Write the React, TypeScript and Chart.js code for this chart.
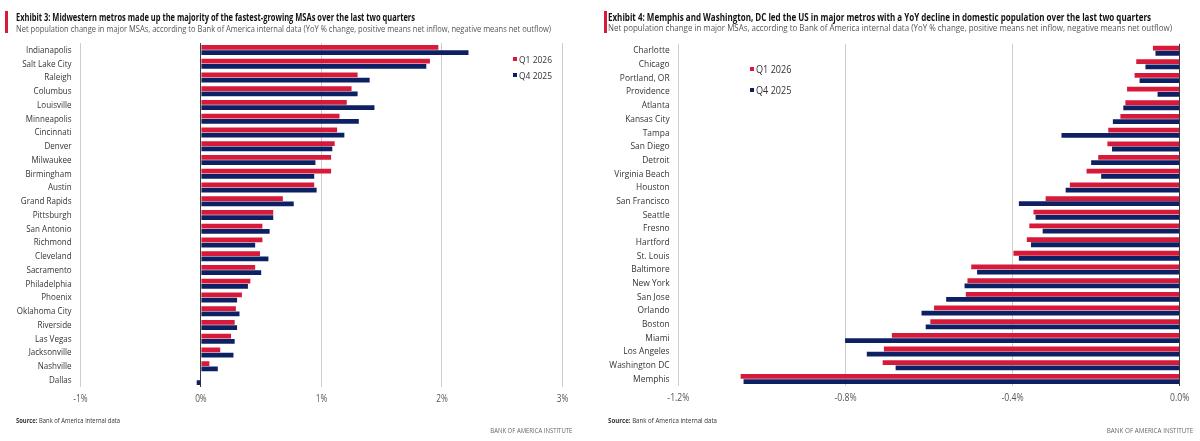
import React, { useEffect, useRef } from 'react';
import { Chart, registerables } from 'chart.js';
Chart.register(...registerables);

// ---------- DATA ----------
const leftCities = [
  'Indianapolis', 'Salt Lake City', 'Raleigh', 'Columbus', 'Louisville', 'Minneapolis',
  'Cincinnati', 'Denver', 'Milwaukee', 'Birmingham', 'Austin', 'Grand Rapids', 'Pittsburgh',
  'San Antonio', 'Richmond', 'Cleveland', 'Sacramento', 'Philadelphia', 'Phoenix',
  'Oklahoma City', 'Riverside', 'Las Vegas', 'Jacksonville', 'Nashville', 'Dallas',
];
const leftQ1_2026 = [
  1.97, 1.9, 1.3, 1.25, 1.21, 1.15, 1.13, 1.11, 1.08, 1.08, 0.94, 0.68, 0.6,
  0.51, 0.51, 0.49, 0.45, 0.41, 0.34, 0.29, 0.28, 0.25, 0.16, 0.07, 0.0,
];
const leftQ4_2025 = [
  2.22, 1.87, 1.4, 1.3, 1.44, 1.31, 1.19, 1.09, 0.95, 0.94, 0.96, 0.77, 0.6,
  0.57, 0.45, 0.56, 0.5, 0.39, 0.3, 0.32, 0.3, 0.28, 0.27, 0.14, -0.035,
];

const rightCities = [
  'Charlotte', 'Chicago', 'Portland, OR', 'Providence', 'Atlanta', 'Kansas City', 'Tampa',
  'San Diego', 'Detroit', 'Virginia Beach', 'Houston', 'San Francisco', 'Seattle', 'Fresno',
  'Hartford', 'St. Louis', 'Baltimore', 'New York', 'San Jose', 'Orlando', 'Boston', 'Miami',
  'Los Angeles', 'Washington DC', 'Memphis',
];
const rightQ1_2026 = [
  -0.064, -0.104, -0.108, -0.126, -0.13, -0.142, -0.171, -0.173, -0.195, -0.223, -0.263,
  -0.321, -0.35, -0.36, -0.366, -0.398, -0.499, -0.508, -0.512, -0.588, -0.597, -0.689,
  -0.708, -0.711, -1.051,
];
const rightQ4_2025 = [
  -0.058, -0.082, -0.096, -0.053, -0.135, -0.16, -0.283, -0.162, -0.212, -0.188, -0.273,
  -0.385, -0.345, -0.328, -0.356, -0.385, -0.485, -0.515, -0.559, -0.618, -0.608, -0.801,
  -0.749, -0.68, -1.044,
];

const seriesLabels = ['Q1 2026', 'Q4 2025'];

const leftTicks = { min: -1, max: 3, step: 1 };
const rightTicks = { min: -1.2, max: 0, step: 0.4 };

const leftTitle = 'Exhibit 3: Midwestern metros made up the majority of the fastest-growing MSAs over the last two quarters';
const rightTitle = 'Exhibit 4: Memphis and Washington, DC led the US in major metros with a YoY decline in domestic population over the last two quarters';
const subtitle = 'Net population change in major MSAs, according to Bank of America internal data (YoY % change, positive means net inflow, negative means net outflow)';
const sourceBold = 'Source:';
const sourceText = ' Bank of America internal data';
const brand = 'BANK OF AMERICA INSTITUTE';

// ---------- STYLE ----------
const RED = '#D71A3A';
const NAVY = '#0C2063';
const FONT = "'Open Sans', 'Noto Sans', sans-serif";

let measureCtx: CanvasRenderingContext2D | null = null;
function getCtx() {
  if (!measureCtx) measureCtx = document.createElement('canvas').getContext('2d');
  return measureCtx!;
}
function textW(text: string, size: number, weight = 'normal') {
  const c = getCtx();
  c.font = `${weight} ${size}px ${FONT}`;
  return c.measureText(text).width;
}

type PanelCfg = {
  cats: string[];
  a: number[];
  b: number[];
  ticks: { min: number; max: number; step: number };
  fmt: (v: number) => string;
  yWidth: number;
  tickPad: number;
  padR: number;
  padT: number;
  padB: number;
  fontSize: number;
  labelSample: string;
  labelTarget: number;
};

function PanelChart({ cfg }: { cfg: PanelCfg }) {
  const ref = useRef<HTMLCanvasElement>(null);
  useEffect(() => {
    const sx = cfg.labelTarget / textW(cfg.labelSample, cfg.fontSize);
    const condense = {
      id: 'condense',
      beforeDraw(chart: any) {
        const ctx = chart.ctx;
        if (ctx.__condensed) return;
        const orig = ctx.fillText.bind(ctx);
        ctx.fillText = (t: string, x: number, y: number, mw?: number) => {
          ctx.save();
          ctx.translate(x, y);
          ctx.scale(sx, 1);
          if (mw === undefined) orig(t, 0, 0);
          else orig(t, 0, 0, mw / sx);
          ctx.restore();
        };
        ctx.__condensed = true;
      },
    };
    const chart = new Chart(ref.current!, {
      type: 'bar',
      data: {
        labels: cfg.cats,
        datasets: [
          { label: seriesLabels[0], data: cfg.a, backgroundColor: RED, barPercentage: 0.92, categoryPercentage: 0.76 },
          { label: seriesLabels[1], data: cfg.b, backgroundColor: NAVY, barPercentage: 0.92, categoryPercentage: 0.76 },
        ],
      },
      options: {
        indexAxis: 'y',
        animation: false,
        responsive: false,
        maintainAspectRatio: false,
        layout: { padding: { left: 0, right: cfg.padR, top: cfg.padT, bottom: cfg.padB } },
        plugins: { legend: { display: false }, tooltip: { enabled: false } },
        scales: {
          y: {
            type: 'category',
            grid: { display: false, drawTicks: false },
            border: { display: false },
            ticks: { autoSkip: false, padding: cfg.tickPad, color: '#333', font: { family: FONT, size: cfg.fontSize } },
            afterFit: (s: any) => { s.width = cfg.yWidth; },
          },
          x: {
            type: 'linear',
            min: cfg.ticks.min,
            max: cfg.ticks.max,
            grid: {
              drawTicks: false,
              lineWidth: 1,
              color: (c: any) => (Math.abs(c.tick?.value ?? 1) < 1e-9 ? '#3a3a3a' : '#cdcdcd'),
            },
            border: { display: false },
            ticks: {
              stepSize: cfg.ticks.step,
              padding: 6,
              color: '#555',
              font: { family: FONT, size: cfg.fontSize * 1.03 },
              callback: (v: any) => cfg.fmt(Number(v)),
            },
            afterFit: (s: any) => { s.height = 20; },
          },
        },
      } as any,
      plugins: [condense],
    });
    return () => chart.destroy();
  }, [cfg]);
  return <canvas ref={ref} width={600} height={441} style={{ width: 600, height: 441, display: 'block' }} />;
}

function Txt({ children, measure, x, y, size, target, weight = 'normal', color = '#222', align = 'left' }: any) {
  const sx = target / measure;
  const lh = size * 1.3;
  return (
    <div
      style={{
        position: 'absolute',
        left: align === 'left' ? x : x - measure,
        top: y - lh / 2,
        fontFamily: FONT,
        fontSize: size,
        fontWeight: weight as any,
        lineHeight: `${lh}px`,
        whiteSpace: 'nowrap',
        color,
        transform: `scaleX(${sx})`,
        transformOrigin: align === 'left' ? 'left center' : 'right center',
      }}
    >
      {children}
    </div>
  );
}

function Line({ text, x, y, size, target, weight = 'normal', color, align = 'left' }: any) {
  return (
    <Txt measure={textW(text, size, weight)} x={x} y={y} size={size} target={target} weight={weight} color={color} align={align}>
      {text}
    </Txt>
  );
}

function Source({ x, y, target }: any) {
  const size = 7.2;
  const w = textW(sourceBold, size, 'bold') + textW(sourceText, size);
  return (
    <Txt measure={w} x={x} y={y} size={size} target={target} color="#333">
      <b>{sourceBold}</b>
      {sourceText}
    </Txt>
  );
}

function Legend({ x, y0, dy, size, textTarget }: any) {
  const sx = textTarget / textW(seriesLabels[0], size);
  return (
    <>
      {seriesLabels.map((l, i) => (
        <div key={l} style={{ position: 'absolute', left: x, top: y0 + i * dy - 7, height: 14, display: 'flex', alignItems: 'center', fontFamily: FONT, fontSize: size, color: '#333', whiteSpace: 'nowrap' }}>
          <span style={{ display: 'inline-block', width: 4, height: 4, background: i === 0 ? RED : NAVY, marginRight: 2.5 }} />
          <span style={{ display: 'inline-block', transform: `scaleX(${sx})`, transformOrigin: 'left center' }}>{l}</span>
        </div>
      ))}
    </>
  );
}

export default function App() {
  const leftCfg: PanelCfg = {
    cats: leftCities, a: leftQ1_2026, b: leftQ4_2025, ticks: leftTicks,
    fmt: (v) => `${Math.round(v)}%`,
    yWidth: 80.4, tickPad: 8.8, padR: 600 - 562.5, padT: 43.1, padB: 441 - 386.9 - 20,
    fontSize: 9.8, labelSample: 'Salt Lake City', labelTarget: 49.4,
  };
  const rightCfg: PanelCfg = {
    cats: rightCities, a: rightQ1_2026, b: rightQ4_2025, ticks: rightTicks,
    fmt: (v) => `${v.toFixed(1)}%`,
    yWidth: 78.4, tickPad: 8.8, padR: 600 - 579.7, padT: 43.8, padB: 441 - 385.8 - 20,
    fontSize: 9.8, labelSample: 'Virginia Beach', labelTarget: 55.4,
  };
  return (
    <div style={{ position: 'absolute', left: 0, top: 0, width: 1200, height: 441, background: '#fff', overflow: 'hidden' }}>
      <div style={{ position: 'absolute', left: 0, top: 0 }}><PanelChart cfg={leftCfg} /></div>
      <div style={{ position: 'absolute', left: 600, top: 0 }}><PanelChart cfg={rightCfg} /></div>

      <div style={{ position: 'absolute', left: 5, top: 10.7, width: 3, height: 22.5, background: RED }} />
      <Line text={leftTitle} x={16} y={17} size={10} target={399} weight="bold" color="#111" />
      <Line text={subtitle} x={16} y={29} size={9.4} target={535} color="#555" />

      <div style={{ position: 'absolute', left: 604, top: 11.3, width: 3, height: 22, background: RED }} />
      <Line text={rightTitle} x={608.4} y={17} size={10} target={543} weight="bold" color="#111" />
      <Line text={subtitle} x={608.4} y={28.5} size={9.4} target={564} color="#555" />

      <Legend x={512.7} y0={59.3} dy={15.7} size={9.6} textTarget={33} />
      <Legend x={749.5} y0={69} dy={21} size={10} textTarget={35.5} />

      <Source x={16} y={421} target={104} />
      <Source x={607.7} y={421} target={109} />
      <Line text={brand} x={572} y={431} size={7} target={82} color="#666" align="right" />
      <Line text={brand} x={1193.3} y={431} size={7} target={86.6} color="#666" align="right" />
    </div>
  );
}
